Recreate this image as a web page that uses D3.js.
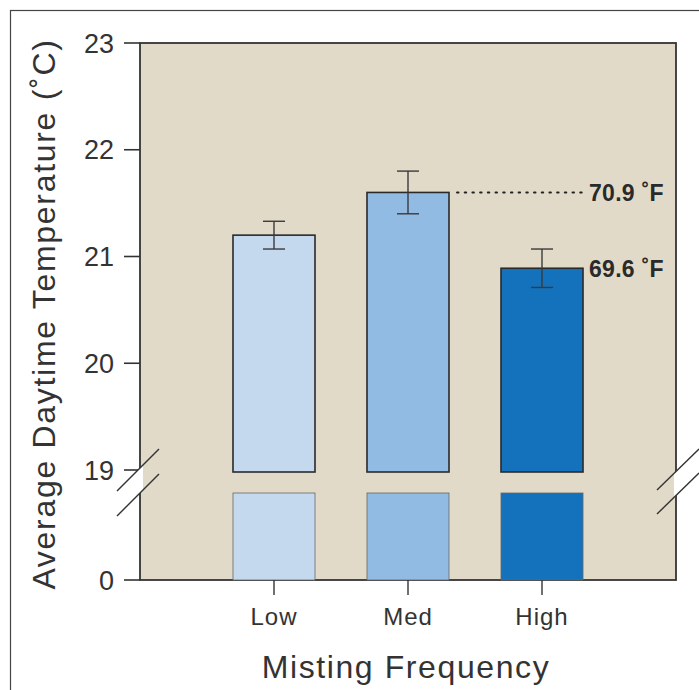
<!DOCTYPE html>
<html>
<head>
<meta charset="utf-8">
<script src="https://cdn.jsdelivr.net/npm/d3@7"></script>
<style>
  body { margin: 0; background: #fff; }
  svg { display: block; font-family: "Liberation Sans", Arial, sans-serif; }
</style>
</head>
<body>
<div id="chart"></div>
<script>
// data
var categories = ["Low", "Med", "High"];
var means = [21.2, 21.6, 20.89];
var errors = [0.13, 0.2, 0.18];
var fahrenheitLabels = [null, "70.9 \u02daF", "69.6 \u02daF"];
var upperTicks = [19, 20, 21, 22, 23];
var lowerTicks = [0];
var colors = ["#c5d9ee", "#92bbe3", "#1472bc"];

var width = 699, height = 690;
var plot = {left: 140, right: 676, top: 43, bottom: 580};

var svg = d3.select("#chart").append("svg")
    .attr("width", width)
    .attr("height", height);

// outer frame (runs off the right and bottom of the image)
svg.append("rect")
    .attr("x", 10.5).attr("y", 10.5)
    .attr("width", width + 20).attr("height", height + 20)
    .attr("fill", "none").attr("stroke", "#444").attr("stroke-width", 1.2);

// y scales: upper section 19-23, lower stub 0..break
var yTop = d3.scaleLinear().domain([19, 23]).range([470, plot.top]);
var yLow = d3.scaleLinear().domain([0, 1]).range([plot.bottom, 493]);

var x = d3.scaleBand()
    .domain(categories)
    .range([181, 635])
    .paddingInner(0.388)
    .paddingOuter(0.388);

// plot background
svg.append("rect")
    .attr("x", plot.left).attr("y", plot.top)
    .attr("width", plot.right - plot.left).attr("height", plot.bottom - plot.top)
    .attr("fill", "#e2dac8").attr("stroke", "#333").attr("stroke-width", 1.8);

var g = svg.append("g");

// upper bars
g.selectAll(".barTop")
    .data(means)
    .enter().append("rect")
    .attr("class", "barTop")
    .attr("x", function(d, i) { return x(categories[i]); })
    .attr("y", function(d) { return yTop(d); })
    .attr("width", x.bandwidth())
    .attr("height", function(d) { return yTop(19) + 2 - yTop(d); })
    .attr("fill", function(d, i) { return colors[i]; })
    .attr("stroke", "#2a2a2a").attr("stroke-width", 1.6);

// lower stubs
g.selectAll(".barLow")
    .data(means)
    .enter().append("rect")
    .attr("class", "barLow")
    .attr("x", function(d, i) { return x(categories[i]); })
    .attr("y", yLow(1))
    .attr("width", x.bandwidth())
    .attr("height", yLow(0) - yLow(1))
    .attr("fill", function(d, i) { return colors[i]; })
    .attr("stroke", "#666").attr("stroke-width", 0.8);

// error bars
var cap = 11;
var eb = g.selectAll(".err")
    .data(means)
    .enter().append("g")
    .attr("class", "err")
    .attr("stroke", "#3a3a3a").attr("stroke-width", 1.4);
eb.append("line")
    .attr("x1", function(d, i) { return x(categories[i]) + x.bandwidth() / 2; })
    .attr("x2", function(d, i) { return x(categories[i]) + x.bandwidth() / 2; })
    .attr("y1", function(d, i) { return yTop(d + errors[i]); })
    .attr("y2", function(d, i) { return yTop(d - errors[i]); });
[1, -1].forEach(function(s) {
  eb.append("line")
      .attr("x1", function(d, i) { return x(categories[i]) + x.bandwidth() / 2 - cap; })
      .attr("x2", function(d, i) { return x(categories[i]) + x.bandwidth() / 2 + cap; })
      .attr("y1", function(d, i) { return yTop(d + s * errors[i]); })
      .attr("y2", function(d, i) { return yTop(d + s * errors[i]); });
});

// fahrenheit annotations
var labelX = 589;
means.forEach(function(d, i) {
  if (!fahrenheitLabels[i]) return;
  if (i === 1) {
    g.append("line")
        .attr("x1", x(categories[i]) + x.bandwidth() + 8)
        .attr("x2", labelX - 4)
        .attr("y1", yTop(d)).attr("y2", yTop(d))
        .attr("stroke", "#222").attr("stroke-width", 2)
        .attr("stroke-dasharray", "1.5,6.2")
        .attr("stroke-linecap", "round");
  }
  g.append("text")
      .attr("x", labelX).attr("y", yTop(d))
      .attr("dy", "0.36em")
      .attr("font-size", 23).attr("font-weight", "bold")
      .attr("letter-spacing", 0.3)
      .attr("fill", "#2a2a2a")
      .text(fahrenheitLabels[i]);
});

// y axis ticks and labels
var tickG = svg.append("g").attr("fill", "#333");
function yTicks(ticks, scale) {
  ticks.forEach(function(t) {
    svg.append("line")
        .attr("x1", 124).attr("x2", plot.left)
        .attr("y1", scale(t)).attr("y2", scale(t))
        .attr("stroke", "#333").attr("stroke-width", 1.6);
    tickG.append("text")
        .attr("x", 114).attr("y", scale(t))
        .attr("dy", "0.36em")
        .attr("text-anchor", "end")
        .attr("font-size", 27)
        .text(t);
  });
}
yTicks(upperTicks, yTop);
yTicks(lowerTicks, yLow);

// x axis ticks and labels
categories.forEach(function(c) {
  var cx = x(c) + x.bandwidth() / 2;
  svg.append("line")
      .attr("x1", cx).attr("x2", cx)
      .attr("y1", plot.bottom).attr("y2", plot.bottom + 15)
      .attr("stroke", "#333").attr("stroke-width", 1.4);
  svg.append("text")
      .attr("x", cx).attr("y", 625)
      .attr("text-anchor", "middle")
      .attr("font-size", 24).attr("letter-spacing", 1)
      .attr("fill", "#333")
      .text(c);
});

// axis break marks
function breakMark(x0, x1, yA, yB, wx0, wx1) {
  var slope = (yB[1] - yB[0]) / (x1 - x0);
  var f = function(y0, xx) { return y0 + slope * (xx - x0); };
  svg.append("polygon")
      .attr("points", [
        [wx0, f(yA[0], wx0)], [wx1, f(yA[0], wx1)],
        [wx1, f(yB[0], wx1)], [wx0, f(yB[0], wx0)]
      ].map(function(p) { return p.join(","); }).join(" "))
      .attr("fill", "#fff");
  [yA[0], yB[0]].forEach(function(y0) {
    svg.append("line")
        .attr("x1", x0).attr("y1", y0)
        .attr("x2", x1).attr("y2", y0 + slope * (x1 - x0))
        .attr("stroke", "#333").attr("stroke-width", 1.4);
  });
}
breakMark(117, 159, [491], [516, 474], 117, 143);
breakMark(657, 699, [490], [514, 473], 674, 699);

// axis titles
svg.append("text")
    .attr("transform", "translate(55,314) rotate(-90)")
    .attr("text-anchor", "middle")
    .attr("font-size", 32).attr("letter-spacing", 1.7)
    .attr("fill", "#333")
    .text("Average Daytime Temperature (\u02daC)");

svg.append("text")
    .attr("x", 406).attr("y", 678)
    .attr("text-anchor", "middle")
    .attr("font-size", 32).attr("letter-spacing", 1.6)
    .attr("fill", "#333")
    .text("Misting Frequency");
</script>
</body>
</html>
